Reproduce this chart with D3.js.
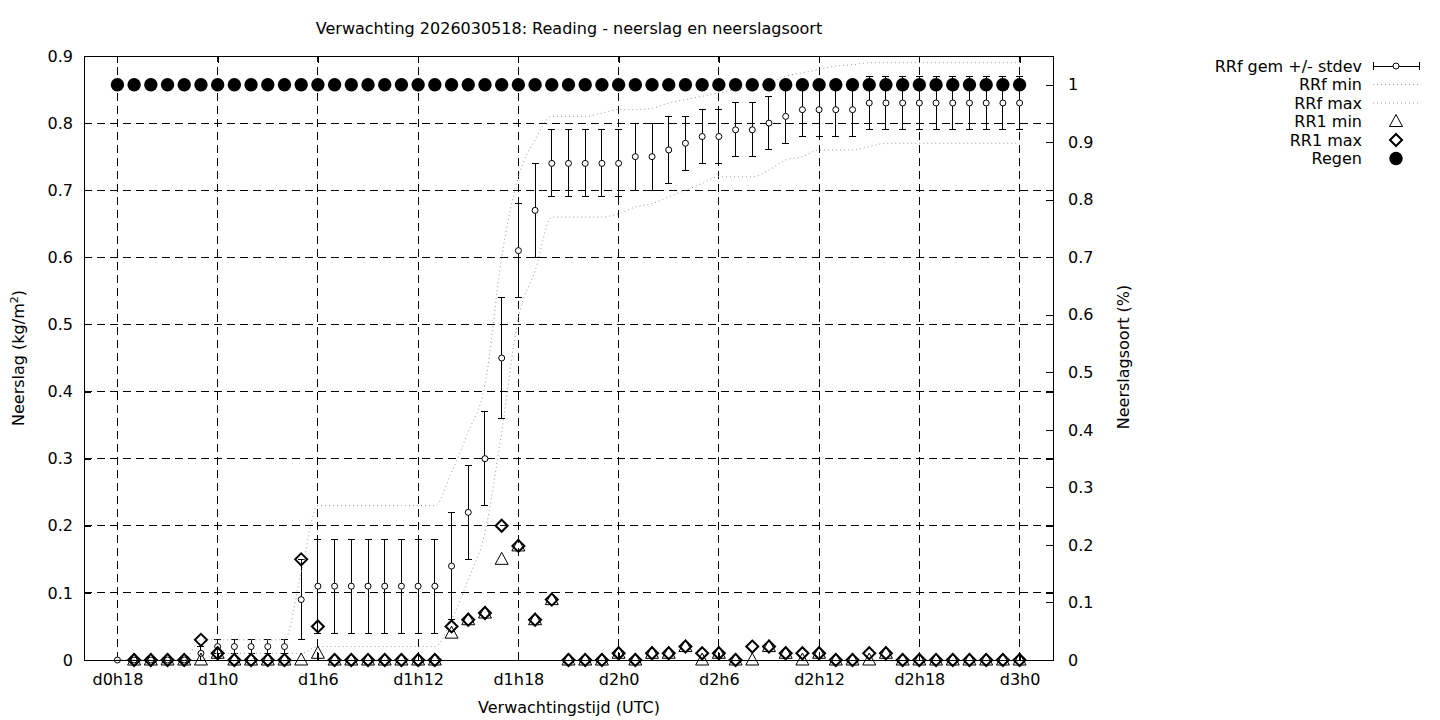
<!DOCTYPE html>
<html>
<head>
<meta charset="utf-8">
<script src="https://cdn.jsdelivr.net/npm/d3@7/dist/d3.min.js"></script>
<style>
body { margin: 0; background: #fff; }
text { font-family: "DejaVu Sans", sans-serif; font-size: 16px; fill: #000; }
</style>
</head>
<body>
<script>
// forecast hours (d0h18 .. d3h0)
var hours = [18,19,20,21,22,23,24,25,26,27,28,29,30,31,32,33,34,35,36,37,38,39,40,41,42,43,44,45,
  46,47,48,49,50,51,52,53,54,55,56,57,58,59,60,61,62,63,64,65,66,67,68,69,70,71,72];

var rrfMean = [0,0,0,0,0,0.01,0.02,0.02,0.02,0.02,0.02,0.09,0.11,0.11,0.11,0.11,0.11,0.11,0.11,0.11,
  0.14,0.22,0.30,0.45,0.61,0.67,0.74,0.74,0.74,0.74,0.74,0.75,0.75,0.76,0.77,0.78,0.78,0.79,0.79,0.80,
  0.81,0.82,0.82,0.82,0.82,0.83,0.83,0.83,0.83,0.83,0.83,0.83,0.83,0.83,0.83];

var rrfStdev = [0,0,0,0,0,0.01,0.01,0.01,0.01,0.01,0.01,0.06,0.07,0.07,0.07,0.07,0.07,0.07,0.07,0.07,
  0.08,0.07,0.07,0.09,0.07,0.07,0.05,0.05,0.05,0.05,0.05,0.05,0.05,0.05,0.04,0.04,0.04,0.04,0.04,0.04,
  0.04,0.04,0.04,0.04,0.04,0.04,0.04,0.04,0.04,0.04,0.04,0.04,0.04,0.04,0.04];

var rrfMin = [0,0,0,0,0,0,0.01,0.01,0.01,0.01,0.01,0.01,0.02,0.02,0.02,0.02,0.02,0.02,0.02,0.02,
  0.06,0.12,0.19,0.34,0.51,0.58,0.66,0.66,0.66,0.66,0.665,0.675,0.68,0.69,0.70,0.71,0.72,0.72,0.72,0.73,
  0.745,0.75,0.76,0.76,0.76,0.765,0.77,0.77,0.77,0.77,0.77,0.77,0.77,0.77,0.77];

var rrfMax = [0,0,0,0,0,0.03,0.03,0.03,0.03,0.03,0.03,0.13,0.23,0.23,0.23,0.23,0.23,0.23,0.23,0.23,
  0.28,0.34,0.41,0.60,0.72,0.775,0.81,0.81,0.81,0.815,0.82,0.82,0.822,0.83,0.835,0.84,0.845,0.85,0.855,0.86,
  0.87,0.875,0.88,0.885,0.887,0.89,0.89,0.89,0.89,0.89,0.89,0.89,0.89,0.89,0.89];

var rr1Min = [null,0,0,0,0,0,0.01,0,0,0,0,0,0.01,0,0,0,0,0,0,0,
  0.04,0.06,0.07,0.15,0.17,0.06,0.09,0,0,0,0.01,0,0.01,0.01,0.02,0,0.01,0,0,0.02,
  0.01,0,0.01,0,0,0,0.01,0,0,0,0,0,0,0,0];

var rr1Max = [null,0,0,0,0,0.03,0.01,0,0,0,0,0.15,0.05,0,0,0,0,0,0,0,
  0.05,0.06,0.07,0.20,0.17,0.06,0.09,0,0,0,0.01,0,0.01,0.01,0.02,0.01,0.01,0,0.02,0.02,
  0.01,0.01,0.01,0,0,0.01,0.01,0,0,0,0,0,0,0,0];

// Regen share (right axis)
var regen = [1,1,1,1,1,1,1,1,1,1,1,1,1,1,1,1,1,1,1,1,1,1,1,1,1,1,1,1,
  1,1,1,1,1,1,1,1,1,1,1,1,1,1,1,1,1,1,1,1,1,1,1,1,1,1,1];

var xTickHours = [18,24,30,36,42,48,54,60,66,72];
var xTickLabels = ["d0h18","d1h0","d1h6","d1h12","d1h18","d2h0","d2h6","d2h12","d2h18","d3h0"];
var yTicks = [0,0.1,0.2,0.3,0.4,0.5,0.6,0.7,0.8,0.9];
var y2Ticks = [0,0.1,0.2,0.3,0.4,0.5,0.6,0.7,0.8,0.9,1];
var legendLabels = ["RRf gem +/- stdev","RRf min","RRf max","RR1 min","RR1 max","Regen"];

var width = 1440, height = 720;
var box = {left: 84, right: 1053, top: 56, bottom: 660};

var svg = d3.select("body").append("svg").attr("width", width).attr("height", height);
svg.append("rect").attr("width", width).attr("height", height).attr("fill", "#fff");

var x = d3.scaleLinear().domain([16, 74]).range([box.left, box.right]);
var y = d3.scaleLinear().domain([0, 0.9]).range([box.bottom, box.top]);
var y2 = d3.scaleLinear().domain([0, 1.05]).range([box.bottom, box.top]);
var fmt = d3.format("~g");

var rows = hours.map(function(h, i){
  return {h: h, mean: rrfMean[i], sd: rrfStdev[i], min: rrfMin[i], max: rrfMax[i],
    lo: rr1Min[i], hi: rr1Max[i], regen: regen[i]};
});

// grid
var grid = svg.append("g").attr("stroke", "#000").attr("stroke-width", 1)
    .attr("stroke-dasharray", "8,5").attr("shape-rendering", "crispEdges");
grid.selectAll(".gx").data(xTickHours).enter().append("line")
    .attr("x1", function(d){ return x(d); }).attr("x2", function(d){ return x(d); })
    .attr("y1", box.bottom).attr("y2", box.top);
grid.selectAll(".gy").data(yTicks).enter().append("line")
    .attr("x1", box.left).attr("x2", box.right)
    .attr("y1", function(d){ return y(d); }).attr("y2", function(d){ return y(d); });

// axes
function styleAxis(g){
  g.select(".domain").remove();
  g.attr("font-size", 16).attr("font-family", "DejaVu Sans, sans-serif");
  g.selectAll("line").attr("shape-rendering", "crispEdges");
}
svg.append("g").attr("transform", "translate(0," + box.bottom + ")")
    .call(d3.axisBottom(x).tickValues(xTickHours).tickFormat(function(d, i){ return xTickLabels[i]; })
      .tickSizeInner(-7).tickSizeOuter(0).tickPadding(14))
    .call(styleAxis);
svg.append("g").attr("transform", "translate(0," + box.top + ")")
    .call(d3.axisTop(x).tickValues(xTickHours).tickFormat("").tickSizeInner(-7).tickSizeOuter(0))
    .call(styleAxis);
svg.append("g").attr("transform", "translate(" + box.left + ",0)")
    .call(d3.axisLeft(y).tickValues(yTicks).tickFormat(fmt).tickSizeInner(-7).tickSizeOuter(0).tickPadding(11))
    .call(styleAxis);
svg.append("g").attr("transform", "translate(" + box.right + ",0)")
    .call(d3.axisRight(y).tickValues(yTicks).tickFormat("").tickSizeInner(-7).tickSizeOuter(0))
    .call(styleAxis);
svg.append("g").attr("transform", "translate(" + box.right + ",0)")
    .call(d3.axisRight(y2).tickValues(y2Ticks).tickFormat(fmt).tickSizeInner(-7).tickSizeOuter(0).tickPadding(15))
    .call(styleAxis);

// RRf gem +/- stdev
var bars = svg.append("g").attr("stroke", "#000").attr("stroke-width", 1).attr("shape-rendering", "crispEdges");
bars.selectAll(".bar").data(rows).enter().append("path")
    .attr("fill", "none")
    .attr("d", function(d){
      var cx = x(d.h), t = y(d.mean + d.sd), b = y(d.mean - d.sd);
      return "M" + cx + "," + t + "V" + b +
        "M" + (cx - 3.5) + "," + t + "H" + (cx + 3.5) +
        "M" + (cx - 3.5) + "," + b + "H" + (cx + 3.5);
    });
svg.append("g").selectAll("circle").data(rows).enter().append("circle")
    .attr("cx", function(d){ return x(d.h); })
    .attr("cy", function(d){ return y(d.mean); })
    .attr("r", 3)
    .attr("fill", "#fff").attr("stroke", "#000").attr("stroke-width", 1);

// RRf min / max
var line = function(key){
  return d3.line().curve(d3.curveMonotoneX)
    .x(function(d){ return x(d.h); })
    .y(function(d){ return y(d[key]); });
};
["min", "max"].forEach(function(k){
  svg.append("path").datum(rows)
      .attr("fill", "none").attr("stroke", "#999").attr("stroke-width", 1)
      .attr("stroke-dasharray", "1,3")
      .attr("d", line(k));
});

// RR1 min (triangles) and max (diamonds)
function triangle(cx, cy){
  return "M" + cx + "," + (cy - 7) + "L" + (cx + 6.5) + "," + (cy + 5) + "L" + (cx - 6.5) + "," + (cy + 5) + "Z";
}
function diamond(cx, cy){
  return "M" + cx + "," + (cy - 6) + "L" + (cx + 6) + "," + cy + "L" + cx + "," + (cy + 6) + "L" + (cx - 6) + "," + cy + "Z";
}
svg.append("g").selectAll("path").data(rows.filter(function(d){ return d.lo != null; })).enter().append("path")
    .attr("d", function(d){ return triangle(x(d.h), y(d.lo)); })
    .attr("fill", "none").attr("stroke", "#000").attr("stroke-width", 1);
svg.append("g").selectAll("path").data(rows.filter(function(d){ return d.hi != null; })).enter().append("path")
    .attr("d", function(d){ return diamond(x(d.h), y(d.hi)); })
    .attr("fill", "none").attr("stroke", "#000").attr("stroke-width", 2);

// Regen
svg.append("g").selectAll("circle").data(rows).enter().append("circle")
    .attr("cx", function(d){ return x(d.h); })
    .attr("cy", function(d){ return y2(d.regen); })
    .attr("r", 6.7)
    .attr("fill", "#000");

// frame
svg.append("rect").attr("x", box.left).attr("y", box.top)
    .attr("width", box.right - box.left).attr("height", box.bottom - box.top)
    .attr("fill", "none").attr("stroke", "#000").attr("stroke-width", 1)
    .attr("shape-rendering", "crispEdges");

// texts
svg.append("text").attr("x", 569).attr("y", 34).attr("text-anchor", "middle")
    .text("Verwachting 2026030518: Reading - neerslag en neerslagsoort");
svg.append("text").attr("x", 569).attr("y", 713).attr("text-anchor", "middle")
    .text("Verwachtingstijd (UTC)");

var yl = svg.append("text").attr("transform", "translate(24,358) rotate(-90)").attr("text-anchor", "middle");
yl.append("tspan").text("Neerslag (kg/m");
yl.append("tspan").attr("dy", -6).style("font-size", "11px").text("2");
yl.append("tspan").attr("dy", 6).text(")");

svg.append("text").attr("transform", "translate(1129,357) rotate(-90)").attr("text-anchor", "middle")
    .text("Neerslagsoort (%)");

// legend
var leg = svg.append("g");
legendLabels.forEach(function(label, i){
  var ly = 66 + i * 18.5;
  leg.append("text").attr("x", 1362).attr("y", ly).attr("dy", "0.35em")
      .attr("text-anchor", "end").text(label);
  if (i == 0) {
    leg.append("path").attr("fill", "none").attr("stroke", "#000").attr("stroke-width", 1)
        .attr("shape-rendering", "crispEdges")
        .attr("d", "M1373," + ly + "H1419M1373," + (ly - 4) + "V" + (ly + 4) + "M1419," + (ly - 4) + "V" + (ly + 4));
    leg.append("circle").attr("cx", 1396).attr("cy", ly).attr("r", 3)
        .attr("fill", "#fff").attr("stroke", "#000");
  } else if (i == 1 || i == 2) {
    leg.append("line").attr("x1", 1373).attr("x2", 1419).attr("y1", ly).attr("y2", ly)
        .attr("stroke", "#999").attr("stroke-dasharray", "1,3");
  } else if (i == 3) {
    leg.append("path").attr("d", triangle(1396, ly)).attr("fill", "none").attr("stroke", "#000");
  } else if (i == 4) {
    leg.append("path").attr("d", diamond(1396, ly)).attr("fill", "none").attr("stroke", "#000").attr("stroke-width", 2);
  } else {
    leg.append("circle").attr("cx", 1396).attr("cy", ly).attr("r", 6.7).attr("fill", "#000");
  }
});
</script>
</body>
</html>
